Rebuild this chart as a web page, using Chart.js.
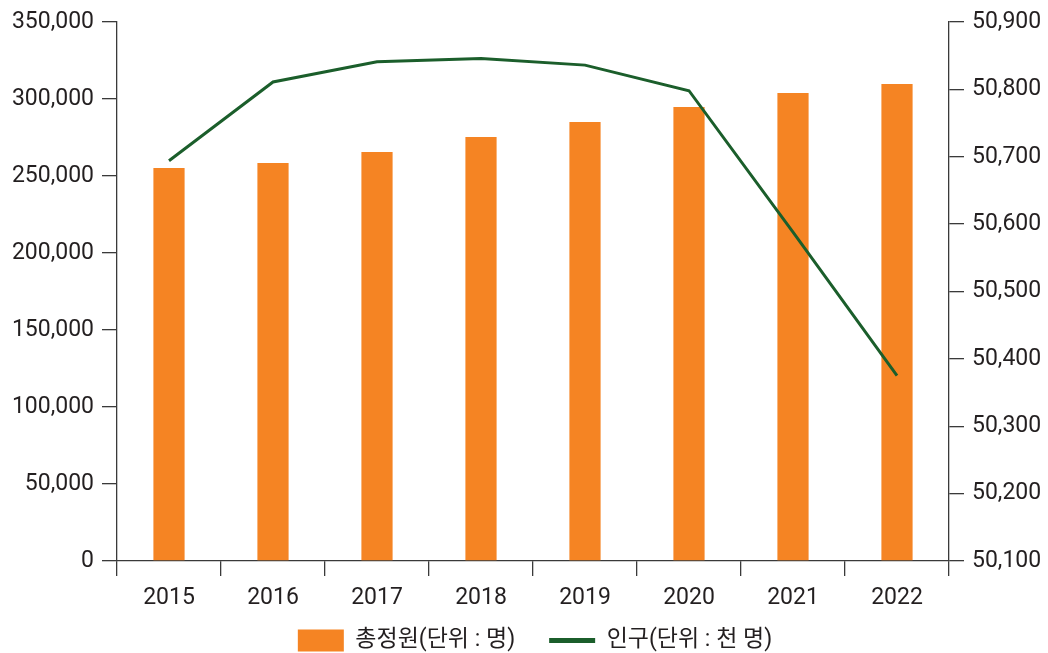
<!DOCTYPE html>
<html>
<head>
<meta charset="utf-8">
<script src="https://cdn.jsdelivr.net/npm/chart.js@4"></script>
<style>
  html, body { margin: 0; padding: 0; background: #fff; }
  #chart { display: block; }
</style>
</head>
<body>
<canvas id="chart" width="1048" height="653"></canvas>
<script>
const YEARS = ["2015","2016","2017","2018","2019","2020","2021","2022"];
const QUOTA = [255200, 258400, 265600, 275300, 285000, 294800, 303900, 309700];   // 총정원 (명)
const POPULATION = [50694, 50811, 50841, 50846, 50836, 50798, 50588, 50375];    // 인구 (천 명)
const SERIES_NAMES = ["총정원(단위 : 명)", "인구(단위 : 천 명)"];

const ORANGE = "#F58423";
const GREEN = "#1B5E2B";
const INK = "#231F20";
const AXIS = "#3a3a3a";
const FONT = { family: "Roboto, 'Noto Sans CJK KR', sans-serif", size: 23 };

Chart.defaults.font.family = FONT.family;
Chart.defaults.color = INK;

const axisCommon = {
  border: { display: true, color: AXIS, width: 1.3 },
  grid: { drawOnChartArea: false, drawTicks: true, tickLength: 15, color: AXIS, lineWidth: 1.3 },
  ticks: { font: FONT, color: INK, padding: 8 },
};

// legend uses one padding for both gaps; keep the wide item gap but a short box,
// and nudge it a little right like the original
const legendFix = {
  id: "legendFix",
  beforeLayout(chart) {
    const lg = chart.legend;
    if (lg && !lg._fixed) {
      const fit = lg.fit.bind(lg);
      lg.fit = function () { fit(); this.height = 58; };
      lg._fixed = true;
    }
  },
  afterLayout(chart) {
    const lg = chart.legend;
    if (lg) { lg.left += 11; lg.right += 11; }
  },
};

new Chart(document.getElementById("chart"), {
  data: {
    labels: YEARS,
    datasets: [
      {
        type: "bar",
        label: SERIES_NAMES[0],
        data: QUOTA,
        backgroundColor: ORANGE,
        yAxisID: "y",
        barPercentage: 0.6,
        categoryPercentage: 0.5,
        order: 1,
      },
      {
        type: "line",
        label: SERIES_NAMES[1],
        data: POPULATION,
        borderColor: GREEN,
        backgroundColor: GREEN,
        borderWidth: 3,
        pointRadius: 0,
        tension: 0,
        yAxisID: "y1",
        order: 0,
      },
    ],
  },
  options: {
    responsive: false,
    animation: false,
    layout: { padding: { top: 22, left: 0, right: 0, bottom: 0 } },
    plugins: {
      tooltip: { enabled: false },
      legend: {
        position: "bottom",
        labels: {
          font: FONT,
          color: INK,
          usePointStyle: true,
          pointStyleWidth: 46,
          boxHeight: 22,
          padding: 34,
          sort: (a, b) => a.datasetIndex - b.datasetIndex,
          generateLabels: (chart) => chart.data.datasets.map((ds, i) => ({
            text: ds.label,
            datasetIndex: i,
            fillStyle: ds.type === "bar" ? ORANGE : GREEN,
            strokeStyle: ds.type === "bar" ? ORANGE : GREEN,
            lineWidth: ds.type === "bar" ? 0 : 5,
            pointStyle: ds.type === "bar" ? "rect" : "line",
            fontColor: INK,
            hidden: false,
          })),
        },
      },
    },
    scales: {
      x: {
        ...axisCommon,
        grid: { ...axisCommon.grid, offset: true },
        ticks: { ...axisCommon.ticks, padding: 8 },
        afterFit: (s) => {
          s.height = 34;
          s._computeLabelArea = () => null;   // let the year labels run past the short axis box
        },
      },
      y: {
        ...axisCommon,
        position: "left",
        min: 0,
        max: 350000,
        ticks: { ...axisCommon.ticks, stepSize: 50000 },
        afterFit: (s) => { s.width = 117; },
      },
      y1: {
        ...axisCommon,
        position: "right",
        min: 50100,
        max: 50900,
        ticks: { ...axisCommon.ticks, stepSize: 100 },
        afterFit: (s) => { s.width = 99; },
      },
    },
  },
  plugins: [legendFix],
});
</script>
</body>
</html>
